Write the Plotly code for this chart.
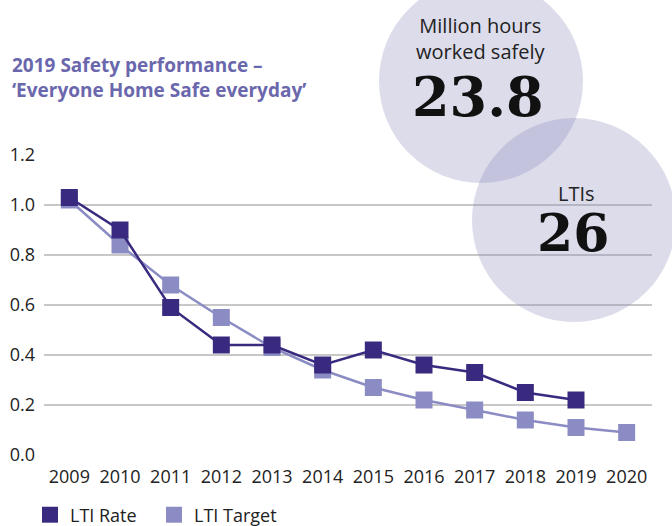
import plotly.graph_objects as go

years = [2009, 2010, 2011, 2012, 2013, 2014, 2015, 2016, 2017, 2018, 2019, 2020]
lti_rate = [1.03, 0.90, 0.59, 0.44, 0.44, 0.36, 0.42, 0.36, 0.33, 0.25, 0.22, None]
lti_target = [1.02, 0.84, 0.68, 0.55, 0.43, 0.34, 0.27, 0.22, 0.18, 0.14, 0.11, 0.09]
y_ticks = [0.0, 0.2, 0.4, 0.6, 0.8, 1.0, 1.2]
y_tick_labels = ["0.0", "0.2", "0.4", "0.6", "0.8", "1.0", "1.2"]

DARK = "#392a80"
LIGHT = "#8b8cc3"
TXT = "#222222"

W, H = 672, 526
L, R, T, B = 44, 20, 155, 71
PW, PH = W - L - R, H - T - B

def px_x(p):
    return (p - L) / PW

def px_y(p):
    return (H - B - p) / PH

fig = go.Figure()

fig.add_trace(go.Scatter(x=years, y=lti_target, mode="lines+markers",
                         line=dict(color=LIGHT, width=2.5),
                         marker=dict(symbol="square", size=17, color=LIGHT),
                         showlegend=False, cliponaxis=False))
fig.add_trace(go.Scatter(x=years, y=lti_rate, mode="lines+markers",
                         line=dict(color=DARK, width=2.5),
                         marker=dict(symbol="square", size=17, color=DARK),
                         showlegend=False, cliponaxis=False))
fig.add_trace(go.Scatter(x=[None], y=[None], mode="markers", name="LTI Rate",
                         marker=dict(symbol="square", size=17, color=DARK)))
fig.add_trace(go.Scatter(x=[None], y=[None], mode="markers", name="LTI Target",
                         marker=dict(symbol="square", size=17, color=LIGHT)))

# Circles
circ_fill = "rgba(140,140,190,0.30)"
for cx, cy, r in [(481, 81, 102), (574, 220, 102)]:
    fig.add_shape(type="circle", xref="paper", yref="paper",
                  x0=px_x(cx - r), x1=px_x(cx + r),
                  y0=px_y(cy + r), y1=px_y(cy - r),
                  fillcolor=circ_fill, line=dict(width=0), layer="above")

ann = []
ann.append(dict(text="Million hours<br>worked safely", x=px_x(481), y=px_y(39),
                xref="paper", yref="paper", showarrow=False,
                font=dict(family="Open Sans", size=20, color=TXT),
                xanchor="center", yanchor="middle"))
ann.append(dict(text="<b>23.8</b>", x=px_x(478), y=px_y(97),
                xref="paper", yref="paper", showarrow=False,
                font=dict(family="DejaVu Serif", size=54, color="#111111"),
                xanchor="center", yanchor="middle"))
ann.append(dict(text="LTIs", x=px_x(576), y=px_y(193),
                xref="paper", yref="paper", showarrow=False,
                font=dict(family="Open Sans", size=20, color=TXT),
                xanchor="center", yanchor="middle"))
ann.append(dict(text="<b>26</b>", x=px_x(573), y=px_y(232),
                xref="paper", yref="paper", showarrow=False,
                font=dict(family="DejaVu Serif", size=52, color="#111111"),
                xanchor="center", yanchor="middle"))
ann.append(dict(text="<b>2019 Safety performance –<br>‘Everyone Home Safe everyday’</b>",
                x=px_x(10), y=px_y(77), xref="paper", yref="paper", showarrow=False,
                align="left", font=dict(family="Open Sans", size=19, color="#6a67ad"),
                xanchor="left", yanchor="middle"))
ann.append(dict(text="Safety", x=px_x(16), y=px_y(2), xref="paper", yref="paper",
                showarrow=False, font=dict(family="Open Sans", size=34, color="#111111"),
                xanchor="left", yanchor="bottom"))
fig.update_layout(annotations=ann)

fig.update_layout(
    width=W, height=H,
    margin=dict(l=L, r=R, t=T, b=B, autoexpand=False),
    paper_bgcolor="white", plot_bgcolor="white",
    font=dict(family="Open Sans", color=TXT, size=18),
    xaxis=dict(range=[2008.5, 2020.5], tickmode="array", tickvals=years,
               ticktext=[str(y) for y in years], showgrid=False, zeroline=False,
               showline=False, ticks="", automargin=False, ticklabelstandoff=9,
               tickfont=dict(size=18, color=TXT)),
    yaxis=dict(range=[0, 1.2], tickmode="array", tickvals=y_ticks, ticktext=y_tick_labels,
               showgrid=True, gridcolor="#c8c8c8", gridwidth=1.5, zeroline=False,
               showline=False, ticks="", automargin=False, ticklabelstandoff=8,
               tickfont=dict(size=18, color=TXT)),
    legend=dict(orientation="h", x=px_x(30), y=px_y(515), xanchor="left", yanchor="middle",
                font=dict(size=18, color=TXT), entrywidth=79, entrywidthmode="pixels",
                traceorder="normal"),
)

fig.write_html("out.html", config={"displayModeBar": False},
               post_script="document.body.style.margin='0';")
